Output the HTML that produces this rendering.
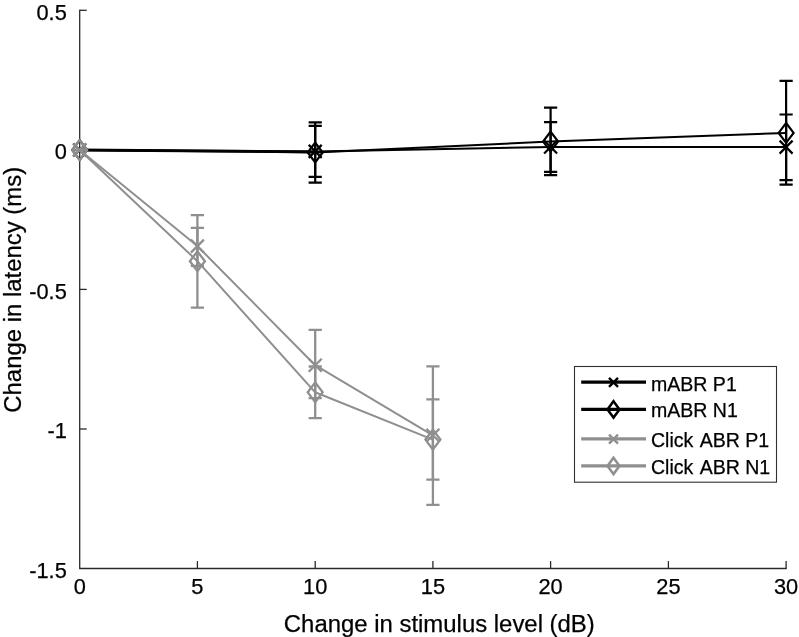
<!DOCTYPE html>
<html><head><meta charset="utf-8"><title>Change in latency</title>
<style>html,body{margin:0;padding:0;background:#fff}svg{display:block}text{font-family:"Liberation Sans",sans-serif;stroke:#000;stroke-width:0.25px}</style></head><body>
<svg width="799" height="637" viewBox="0 0 799 637">
<rect width="799" height="637" fill="#fff"/>
<g stroke="#2a2a2a" stroke-width="1.3" fill="none">
<path d="M79.7,9.7 V568.5 H786.7"/>
<path d="M197.4,568.5 v-7.4"/>
<path d="M315.2,568.5 v-7.4"/>
<path d="M432.9,568.5 v-7.4"/>
<path d="M550.6,568.5 v-7.4"/>
<path d="M668.4,568.5 v-7.4"/>
<path d="M786.1,568.5 v-7.4"/>
<path d="M79.7,10.3 h7"/>
<path d="M79.7,149.8 h7"/>
<path d="M79.7,289.4 h7"/>
<path d="M79.7,429.0 h7"/>
</g>
<g fill="#000" font-size="21.8">
<text x="66.8" y="19.5" text-anchor="end">0.5</text>
<text x="66.8" y="159.0" text-anchor="end">0</text>
<text x="66.8" y="298.6" text-anchor="end">-0.5</text>
<text x="66.8" y="438.2" text-anchor="end">-1</text>
<text x="66.8" y="577.7" text-anchor="end">-1.5</text>
<text x="79.7" y="593.6" text-anchor="middle">0</text>
<text x="197.4" y="593.6" text-anchor="middle">5</text>
<text x="315.2" y="593.6" text-anchor="middle">10</text>
<text x="432.9" y="593.6" text-anchor="middle">15</text>
<text x="550.6" y="593.6" text-anchor="middle">20</text>
<text x="668.4" y="593.6" text-anchor="middle">25</text>
<text x="786.1" y="593.6" text-anchor="middle">30</text>
</g>
<text x="439.3" y="632.2" font-size="23.92" fill="#000" text-anchor="middle">Change in stimulus level (dB)</text>
<text transform="translate(21.3,289.8) rotate(-90)" font-size="23.92" fill="#000" text-anchor="middle">Change in latency (ms)</text>
<path d="M79.7,150.0 L315.2,151.95" stroke="#000" stroke-width="2.8" fill="none"/>
<g>
<path d="M79.7,150.0 V150.0 M73.1,150.0 h13.2 M73.1,150.0 h13.2" stroke="#000" stroke-width="2.2" fill="none"/>
<path d="M315.2,125.9 V176.9 M308.6,125.9 h13.2 M308.6,176.9 h13.2" stroke="#000" stroke-width="2.2" fill="none"/>
<path d="M550.6,122.2 V171.9 M544.0,122.2 h13.2 M544.0,171.9 h13.2" stroke="#000" stroke-width="2.2" fill="none"/>
<path d="M786.1,114.5 V180.2 M779.5,114.5 h13.2 M779.5,180.2 h13.2" stroke="#000" stroke-width="2.2" fill="none"/>
<polyline points="79.7,150.0 315.2,151.4 550.6,147.0 786.1,147.1" stroke="#000" stroke-width="2.0" fill="none" stroke-linejoin="round"/>
<path d="M73.2,143.5 L86.2,156.5 M73.2,156.5 L86.2,143.5" stroke="#000" stroke-width="2.2" fill="none"/>
<path d="M308.7,144.9 L321.7,157.9 M308.7,157.9 L321.7,144.9" stroke="#000" stroke-width="2.2" fill="none"/>
<path d="M544.1,140.5 L557.1,153.5 M544.1,153.5 L557.1,140.5" stroke="#000" stroke-width="2.2" fill="none"/>
<path d="M779.6,140.6 L792.6,153.6 M779.6,153.6 L792.6,140.6" stroke="#000" stroke-width="2.2" fill="none"/>
</g>
<g>
<path d="M79.7,150.0 V150.0 M73.1,150.0 h13.2 M73.1,150.0 h13.2" stroke="#000" stroke-width="2.2" fill="none"/>
<path d="M315.2,122.3 V182.7 M308.6,122.3 h13.2 M308.6,182.7 h13.2" stroke="#000" stroke-width="2.2" fill="none"/>
<path d="M550.6,107.6 V175.2 M544.0,107.6 h13.2 M544.0,175.2 h13.2" stroke="#000" stroke-width="2.2" fill="none"/>
<path d="M786.1,80.9 V184.6 M779.5,80.9 h13.2 M779.5,184.6 h13.2" stroke="#000" stroke-width="2.2" fill="none"/>
<polyline points="79.7,150.0 315.2,152.5 550.6,141.5 786.1,132.9" stroke="#000" stroke-width="2.0" fill="none" stroke-linejoin="round"/>
<path d="M79.7,140.1 L87.2,150.0 L79.7,159.9 L72.2,150.0 Z" stroke="#000" stroke-width="2.2" fill="none" stroke-linejoin="miter"/>
<path d="M315.2,142.6 L322.7,152.5 L315.2,162.4 L307.7,152.5 Z" stroke="#000" stroke-width="2.2" fill="none" stroke-linejoin="miter"/>
<path d="M550.6,131.6 L558.1,141.5 L550.6,151.4 L543.1,141.5 Z" stroke="#000" stroke-width="2.2" fill="none" stroke-linejoin="miter"/>
<path d="M786.1,123.0 L793.6,132.9 L786.1,142.8 L778.6,132.9 Z" stroke="#000" stroke-width="2.2" fill="none" stroke-linejoin="miter"/>
</g>
<g>
<path d="M79.7,150.0 V150.0 M73.1,150.0 h13.2 M73.1,150.0 h13.2" stroke="#8f8f8f" stroke-width="2.3" fill="none"/>
<path d="M197.4,227.9 V265.9 M190.8,227.9 h13.2 M190.8,265.9 h13.2" stroke="#8f8f8f" stroke-width="2.3" fill="none"/>
<path d="M315.2,329.8 V398.2 M308.6,329.8 h13.2 M308.6,398.2 h13.2" stroke="#8f8f8f" stroke-width="2.3" fill="none"/>
<path d="M432.9,366.3 V504.9 M426.3,366.3 h13.2 M426.3,504.9 h13.2" stroke="#8f8f8f" stroke-width="2.3" fill="none"/>
<polyline points="79.7,150.0 197.4,246.1 315.2,365.2 432.9,435.3" stroke="#8f8f8f" stroke-width="2.0" fill="none" stroke-linejoin="round"/>
<path d="M73.2,143.5 L86.2,156.5 M73.2,156.5 L86.2,143.5" stroke="#8f8f8f" stroke-width="2.3" fill="none"/>
<path d="M190.9,239.6 L203.9,252.6 M190.9,252.6 L203.9,239.6" stroke="#8f8f8f" stroke-width="2.3" fill="none"/>
<path d="M308.7,358.7 L321.7,371.7 M308.7,371.7 L321.7,358.7" stroke="#8f8f8f" stroke-width="2.3" fill="none"/>
<path d="M426.4,428.8 L439.4,441.8 M426.4,441.8 L439.4,428.8" stroke="#8f8f8f" stroke-width="2.3" fill="none"/>
</g>
<g>
<path d="M79.7,150.0 V150.0 M73.1,150.0 h13.2 M73.1,150.0 h13.2" stroke="#8f8f8f" stroke-width="2.3" fill="none"/>
<path d="M197.4,215.1 V307.7 M190.8,215.1 h13.2 M190.8,307.7 h13.2" stroke="#8f8f8f" stroke-width="2.3" fill="none"/>
<path d="M315.2,366.5 V418.1 M308.6,366.5 h13.2 M308.6,418.1 h13.2" stroke="#8f8f8f" stroke-width="2.3" fill="none"/>
<path d="M432.9,399.3 V479.6 M426.3,399.3 h13.2 M426.3,479.6 h13.2" stroke="#8f8f8f" stroke-width="2.3" fill="none"/>
<polyline points="79.7,150.0 197.4,261.2 315.2,392.3 432.9,439.6" stroke="#8f8f8f" stroke-width="2.0" fill="none" stroke-linejoin="round"/>
<path d="M79.7,140.1 L87.2,150.0 L79.7,159.9 L72.2,150.0 Z" stroke="#8f8f8f" stroke-width="2.3" fill="none" stroke-linejoin="miter"/>
<path d="M197.4,251.3 L204.9,261.2 L197.4,271.1 L189.9,261.2 Z" stroke="#8f8f8f" stroke-width="2.3" fill="none" stroke-linejoin="miter"/>
<path d="M315.2,382.4 L322.7,392.3 L315.2,402.2 L307.7,392.3 Z" stroke="#8f8f8f" stroke-width="2.3" fill="none" stroke-linejoin="miter"/>
<path d="M432.9,429.7 L440.4,439.6 L432.9,449.5 L425.4,439.6 Z" stroke="#8f8f8f" stroke-width="2.3" fill="none" stroke-linejoin="miter"/>
</g>
<rect x="574.5" y="366.5" width="202" height="115.7" fill="#fff" stroke="#303030" stroke-width="1.1"/>
<path d="M581.2,382.1 H646" stroke="#000" stroke-width="3.2" fill="none"/>
<path d="M609.0,377.9 L618.0,386.9 M609.0,386.9 L618.0,377.9" stroke="#000" stroke-width="2.4" fill="none"/>
<text x="651.0" y="390.6" font-size="19.55" fill="#000">mABR P1</text>
<path d="M581.2,409.4 H646" stroke="#000" stroke-width="3.2" fill="none"/>
<path d="M613.5,401.2 L619.5,409.4 L613.5,417.6 L607.5,409.4 Z" stroke="#000" stroke-width="2.5" fill="none" stroke-linejoin="miter"/>
<text x="651.0" y="417.0" font-size="19.55" fill="#000">mABR N1</text>
<path d="M581.2,438.8 H646" stroke="#8f8f8f" stroke-width="3.2" fill="none"/>
<path d="M609.0,434.6 L618.0,443.6 M609.0,443.6 L618.0,434.6" stroke="#8f8f8f" stroke-width="2.4" fill="none"/>
<text x="651.0" y="447.0" font-size="19.55" fill="#000">Click <tspan dx="2">ABR P1</tspan></text>
<path d="M581.2,465.9 H646" stroke="#8f8f8f" stroke-width="3.2" fill="none"/>
<path d="M613.5,457.7 L619.5,465.9 L613.5,474.1 L607.5,465.9 Z" stroke="#8f8f8f" stroke-width="2.5" fill="none" stroke-linejoin="miter"/>
<text x="651.0" y="473.8" font-size="19.55" fill="#000">Click <tspan dx="2">ABR N1</tspan></text>
</svg></body></html>
